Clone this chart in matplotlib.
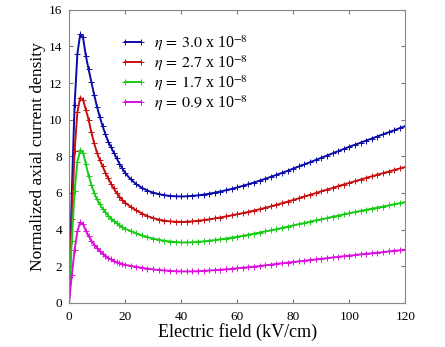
import numpy as np
import matplotlib.pyplot as plt

plt.rcParams['font.family'] = ['Liberation Serif', 'DejaVu Serif']
plt.rcParams['mathtext.fontset'] = 'stix'

# Electric field (kV/cm)
field = list(range(0, 21)) + list(range(22, 121, 2))

# Normalized axial current density, one list per eta
j_30 = [0, 6.0, 10.8, 13.6, 14.65, 14.5, 13.5, 12.75, 12.05, 11.35, 10.7, 10.15, 9.65, 9.2, 8.8,
        8.5, 8.2, 7.9, 7.6, 7.35, 7.1,
        6.75, 6.48, 6.28, 6.13, 6.02, 5.94, 5.88, 5.84, 5.82, 5.81, 5.82, 5.84, 5.87, 5.91, 5.96,
        6.02, 6.08, 6.15, 6.22, 6.3, 6.39, 6.48, 6.57, 6.67, 6.77, 6.88, 6.99, 7.1, 7.21, 7.33,
        7.45, 7.56, 7.68, 7.8, 7.92, 8.04, 8.16, 8.28, 8.4, 8.52, 8.63, 8.74, 8.86, 8.97, 9.08,
        9.2, 9.31, 9.42, 9.54, 9.65]
j_27 = [0, 4.6, 8.3, 10.4, 11.2, 11.1, 10.55, 10.0, 9.3, 8.7, 8.2, 7.8, 7.45, 7.1, 6.8,
        6.5, 6.25, 6.0, 5.8, 5.62, 5.47,
        5.25, 5.05, 4.88, 4.74, 4.63, 4.55, 4.49, 4.45, 4.43, 4.42, 4.43, 4.45, 4.48, 4.52, 4.56,
        4.61, 4.66, 4.72, 4.78, 4.84, 4.9, 4.97, 5.04, 5.11, 5.19, 5.27, 5.35, 5.44, 5.53, 5.62,
        5.71, 5.81, 5.9, 5.99, 6.09, 6.18, 6.27, 6.37, 6.46, 6.55, 6.64, 6.73, 6.82, 6.91, 7.0,
        7.08, 7.17, 7.25, 7.34, 7.42]
j_17 = [0, 3.4, 6.1, 7.7, 8.33, 8.2, 7.6, 6.95, 6.45, 6.0, 5.65, 5.38, 5.15, 4.95, 4.77,
        4.6, 4.47, 4.35, 4.24, 4.14, 4.06,
        3.92, 3.79, 3.68, 3.59, 3.51, 3.45, 3.39, 3.35, 3.32, 3.3, 3.3, 3.31, 3.33, 3.36, 3.39,
        3.43, 3.47, 3.51, 3.56, 3.61, 3.66, 3.72, 3.78, 3.84, 3.9, 3.96, 4.02, 4.09, 4.16, 4.23,
        4.3, 4.36, 4.43, 4.5, 4.56, 4.63, 4.7, 4.76, 4.83, 4.9, 4.96, 5.02, 5.08, 5.14, 5.2,
        5.26, 5.32, 5.38, 5.44, 5.5]
j_09 = [0, 1.5, 2.9, 3.9, 4.4, 4.3, 3.95, 3.65, 3.4, 3.18, 3.0, 2.83, 2.69, 2.57, 2.46,
        2.37, 2.29, 2.22, 2.17, 2.12, 2.08,
        2.02, 1.97, 1.92, 1.87, 1.83, 1.8, 1.77, 1.75, 1.73, 1.72, 1.72, 1.72, 1.73, 1.75, 1.77,
        1.79, 1.81, 1.83, 1.86, 1.89, 1.92, 1.95, 1.98, 2.01, 2.05, 2.09, 2.13, 2.16, 2.2, 2.23,
        2.27, 2.3, 2.34, 2.37, 2.41, 2.44, 2.48, 2.51, 2.55, 2.58, 2.61, 2.65, 2.68, 2.71, 2.74,
        2.77, 2.81, 2.84, 2.87, 2.9]

labels = [r'$\eta\,=\,3.0$ x 10$^{-8}$', r'$\eta\,=\,2.7$ x 10$^{-8}$',
          r'$\eta\,=\,1.7$ x 10$^{-8}$', r'$\eta\,=\,0.9$ x 10$^{-8}$']
colors = ['#0c0caa', '#c81010', '#18cc18', '#dd10dd']

fig = plt.figure(figsize=(4.45, 3.47), dpi=100)
ax = fig.add_axes([0.155, 0.127, 0.756, 0.845])

for ys, c, lab in zip([j_30, j_27, j_17, j_09], colors, labels):
    ax.plot(field, ys, color=c, lw=1.4, marker='+', ms=4.5, mew=0.7,
            markeredgecolor=c, label=lab)

ax.set_xlim(0, 120)
ax.set_ylim(0, 16)
ax.set_xticks(range(0, 121, 20))
ax.set_yticks(range(0, 17, 2))
ax.tick_params(direction='in', top=True, right=True, labelsize=9.5, length=3,
               color='#777777')
ax.tick_params(axis='x', pad=6)
ax.tick_params(axis='y', pad=5)
for s in ax.spines.values():
    s.set_color('#888888')

ax.set_xlabel('Electric field (kV/cm)', fontsize=13, labelpad=0)
ax.set_ylabel('Normalized axial current density', fontsize=12.5, labelpad=2)

ax.legend(loc='upper left', bbox_to_anchor=(0.11, 0.968), frameon=False, fontsize=11.5,
          handlelength=1.6, handletextpad=0.5, labelspacing=0.02, numpoints=2)

fig.savefig('out.png', dpi=100)
